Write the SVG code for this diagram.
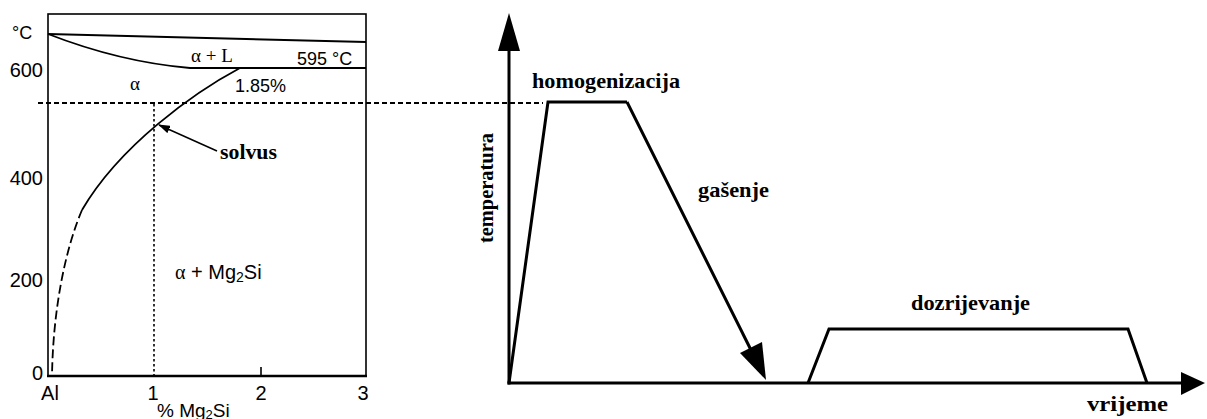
<svg xmlns="http://www.w3.org/2000/svg" width="1207" height="419" viewBox="0 0 1207 419">
  <style>
    .sans { font-family: "Liberation Sans", Arial, sans-serif; fill: #000; }
    .serif { font-family: "Liberation Serif", "Times New Roman", serif; fill: #000; }
    .bold { font-family: "Liberation Serif", "Times New Roman", serif; font-weight: bold; fill: #000; }
    .thin { fill: none; stroke: #000; stroke-width: 1.6; }
    .thick { fill: none; stroke: #000; stroke-width: 3; stroke-linejoin: miter; }
    .dots { fill: none; stroke: #000; stroke-width: 2; stroke-dasharray: 5 3; }
  </style>
  <defs>
    <marker id="small-arrow" markerWidth="12" markerHeight="8" refX="11" refY="4" orient="auto" markerUnits="userSpaceOnUse">
      <path d="M0,0 L12,4 L0,8 Z" fill="#000"/>
    </marker>
  </defs>
  <rect width="1207" height="419" fill="#fff"/>

  <!-- Phase diagram -->
  <g id="phase-diagram">
    <rect x="48" y="14" width="318" height="362" class="thin"/>
    <line x1="47" y1="376" x2="367" y2="376" stroke="#000" stroke-width="2.6"/>
    <line x1="261" y1="367" x2="261" y2="376" stroke="#000" stroke-width="1.6"/>
    <!-- liquidus -->
    <path d="M48,34 L366,42" fill="none" stroke="#000" stroke-width="2"/>
    <!-- solidus + eutectic -->
    <path d="M48,34 Q120,62 190,68 L366,68" fill="none" stroke="#000" stroke-width="1.8"/>
    <!-- solvus -->
    <path d="M240,68 C195,92 120,145 82,210" fill="none" stroke="#000" stroke-width="1.8"/>
    <path d="M82,210 C65,250 53,310 52,376" fill="none" stroke="#000" stroke-width="1.8" stroke-dasharray="9 4"/>
    <!-- composition line -->
    <line x1="154" y1="104" x2="154" y2="376" stroke="#000" stroke-width="1.6" stroke-dasharray="2.5 2.5"/>

    <text class="sans" x="12" y="39" font-size="18">°C</text>
    <text class="sans" x="43" y="77" font-size="20" text-anchor="end">600</text>
    <text class="sans" x="43" y="185" font-size="20" text-anchor="end">400</text>
    <text class="sans" x="43" y="287" font-size="20" text-anchor="end">200</text>
    <text class="sans" x="43" y="380" font-size="20" text-anchor="end">0</text>
    <text class="sans" x="50" y="400" font-size="20" text-anchor="middle">Al</text>
    <text class="sans" x="153" y="400" font-size="20" text-anchor="middle">1</text>
    <text class="sans" x="261" y="400" font-size="20" text-anchor="middle">2</text>
    <text class="sans" x="363" y="400" font-size="20" text-anchor="middle">3</text>
    <text class="sans" x="157" y="417" font-size="19">% Mg<tspan font-size="13" dy="2">2</tspan><tspan dy="-2">Si</tspan></text>

    <text class="serif" x="191" y="62" font-size="19">α + L</text>
    <text class="sans" x="297" y="65" font-size="18">595 °C</text>
    <text class="serif" x="130" y="90" font-size="19">α</text>
    <text class="sans" x="235" y="92" font-size="18">1.85%</text>
    <text class="bold" x="220" y="159" font-size="20" textLength="57" lengthAdjust="spacingAndGlyphs">solvus</text>
    <text class="sans" x="175" y="279" font-size="20"><tspan class="serif">α</tspan> + Mg<tspan font-size="14" dy="3">2</tspan><tspan dy="-3">Si</tspan></text>
  </g>

  <!-- Heat treatment chart -->
  <g id="axes">
    <line x1="509" y1="48" x2="509" y2="384.5" stroke="#000" stroke-width="3"/>
    <polygon points="509,13 498,51 520,51" fill="#000"/>
    <line x1="507.5" y1="383" x2="1184" y2="383" stroke="#000" stroke-width="3"/>
    <polygon points="1205,383 1181,372 1181,395" fill="#000"/>
    <text class="bold" transform="translate(493,188) rotate(-90)" font-size="20" text-anchor="middle" textLength="110" lengthAdjust="spacingAndGlyphs">temperatura</text>
    <text class="bold" x="1087" y="411" font-size="20" textLength="81" lengthAdjust="spacingAndGlyphs">vrijeme</text>
  </g>

  <g id="homogenizacija">
    <path d="M509,383 L548,102 L627,102" class="thick"/>
    <text class="bold" x="532" y="88" font-size="21" textLength="148" lengthAdjust="spacingAndGlyphs">homogenizacija</text>
  </g>

  <g id="gasenje">
    <text class="bold" x="698" y="197" font-size="21" textLength="71" lengthAdjust="spacingAndGlyphs">gašenje</text>
  </g>

  <g id="dozrijevanje">
    <path d="M808,383 L829,329 L1128,329 L1147,383" class="thick"/>
    <text class="bold" x="911" y="310" font-size="21" textLength="119" lengthAdjust="spacingAndGlyphs">dozrijevanje</text>
  </g>

  <g id="connectors">
    <!-- quench arrow -->
    <path d="M627,102 L752,352" class="thick"/>
    <polygon points="766,380 740,353 762,342" fill="#000"/>
    <!-- solvus pointer -->
    <line x1="217" y1="151" x2="159" y2="125" stroke="#000" stroke-width="1.5" marker-end="url(#small-arrow)"/>
    <!-- temperature guide line -->
    <line x1="38" y1="103" x2="543" y2="103" class="dots"/>
  </g>
</svg>
